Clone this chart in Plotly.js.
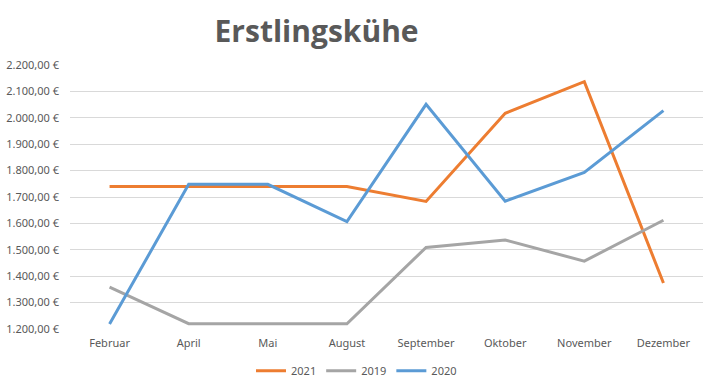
<!DOCTYPE html>
<html><head><meta charset="utf-8">
<script src="https://cdn.plot.ly/plotly-3.0.1.min.js"></script>
<style>html,body{margin:0;padding:0;background:#fff}#c{width:713px;height:388px}</style>
</head><body><div id="c"></div>
<script>
const months = ["Februar","April","Mai","August","September","Oktober","November","Dezember"];
const v2021 = [1740,1740,1740,1740,1683,2017,2137,1374];
const v2019 = [1359,1220,1220,1220,1509,1537,1457,1612];
const v2020 = [1219,1748,1748,1607,2051,1684,1793,2027];
const seriesNames = ["2021","2019","2020"];
const colors = ["#ED7D31","#A5A5A5","#5B9BD5"];
const vals = [v2021,v2019,v2020];
const traces = vals.map((v,i)=>({x:months,y:v,type:"scatter",mode:"lines",name:seriesNames[i],
  line:{color:colors[i],width:3}}));
const layout = {
  width:713,height:388,
  margin:{l:70,r:10,t:65,b:59},
  paper_bgcolor:"#fff",plot_bgcolor:"#fff",
  separators:",.",
  font:{family:"Noto Sans, sans-serif",size:11,color:"#595959"},
  title:{text:"<b>Erstlingskühe</b>",font:{family:"Open Sans, sans-serif",size:30,color:"#595959"},
    x:0.444,xanchor:"center",y:0.92,yanchor:"middle"},
  xaxis:{type:"category",range:[-0.5,7.5],showgrid:false,zeroline:false,showline:false,ticks:"",
    automargin:false,ticklabelstandoff:6,
    tickfont:{size:11,color:"#595959"}},
  yaxis:{range:[1200,2200],dtick:100,tickformat:",.2f",ticksuffix:" €",
    gridcolor:"#D9D9D9",gridwidth:1,zeroline:false,showline:false,ticks:"",
    automargin:false,ticklabelstandoff:10,
    tickfont:{size:11,color:"#595959"}},
  showlegend:true,
  legend:{orientation:"h",xref:"container",yref:"container",x:0.5,xanchor:"center",y:0.082,yanchor:"top",
    font:{size:11,color:"#595959"},itemwidth:30,tracegroupgap:0},
};
Plotly.newPlot("c",traces,layout,{displayModeBar:false});
</script></body></html>
